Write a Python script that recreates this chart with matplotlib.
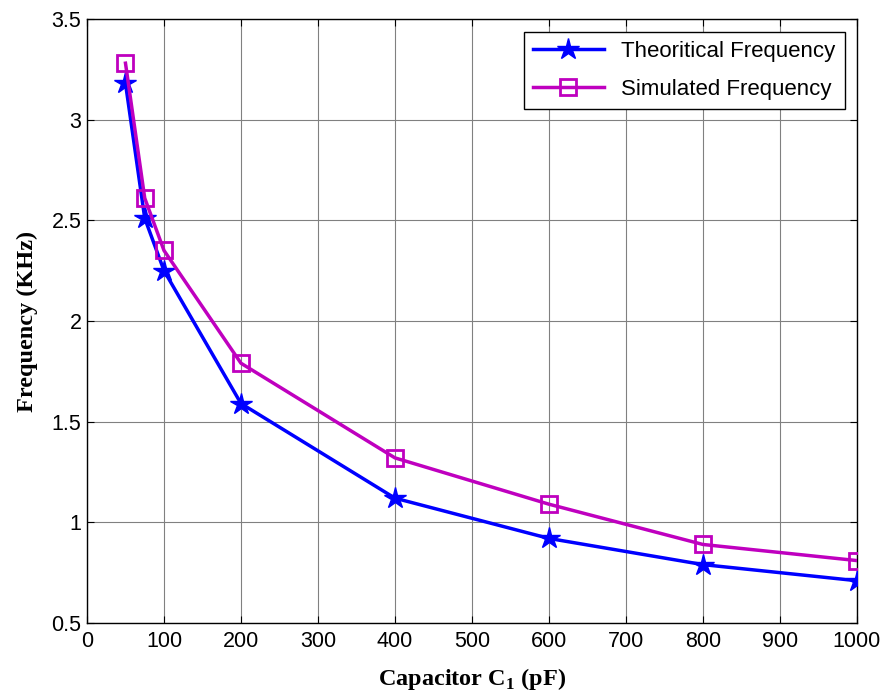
import numpy as np
import matplotlib
matplotlib.use("Agg")
import matplotlib.pyplot as plt

# Capacitor values (pF) and measured / computed frequencies (KHz)
cap = [50, 75, 100, 200, 400, 600, 800, 1000]
f_theory = [3.18, 2.51, 2.25, 1.59, 1.12, 0.92, 0.79, 0.71]
f_sim = [3.28, 2.61, 2.35, 1.79, 1.32, 1.09, 0.89, 0.81]

xticks = [0, 100, 200, 300, 400, 500, 600, 700, 800, 900, 1000]
yticks = [0.5, 1, 1.5, 2, 2.5, 3, 3.5]
ytick_labels = ['0.5', '1', '1.5', '2', '2.5', '3', '3.5']

plt.rcParams['font.family'] = ['Liberation Sans', 'DejaVu Sans']
plt.rcParams['mathtext.fontset'] = 'custom'
plt.rcParams['mathtext.rm'] = 'Liberation Serif:bold'
plt.rcParams['mathtext.bf'] = 'Liberation Serif:bold'

fig = plt.figure(figsize=(8.84, 7.0), dpi=100)
ax = fig.add_axes([0.0984, 0.11, 0.871, 0.863])

ax.plot(cap, f_theory, color='#0000FF', lw=2.5, marker='*', ms=16,
        mfc='#0000FF', mec='#0000FF', label='Theoritical Frequency', zorder=3)
ax.plot(cap, f_sim, color='#BF00BF', lw=2.5, marker='s', ms=11.5,
        mfc='none', mec='#BF00BF', mew=2, label='Simulated Frequency', zorder=3)

ax.set_xlim(0, 1000)
ax.set_ylim(0.5, 3.5)
ax.set_xticks(xticks)
ax.set_yticks(yticks)
ax.set_yticklabels(ytick_labels)
ax.tick_params(direction='in', top=True, right=True, labelsize=15.5, length=5)
ax.tick_params(axis='x', pad=6)
ax.tick_params(axis='y', pad=4)
ax.grid(True, color='#808080', lw=0.8)
for s in ax.spines.values():
    s.set_linewidth(1.0)

ax.set_xlabel(r'Capacitor C$_{\mathbf{1}}$ (pF)', family='Liberation Serif',
              fontweight='bold', fontsize=17.5, labelpad=10)
ax.set_ylabel('Frequency (KHz)', family='Liberation Serif',
              fontweight='bold', fontsize=17.5, labelpad=10)

leg = ax.legend(loc='upper right', bbox_to_anchor=(0.984, 0.978),
                borderaxespad=0, fontsize=16, fancybox=False, framealpha=1,
                edgecolor='black', handlelength=3.2, labelspacing=0.75)
leg.get_frame().set_linewidth(1.0)

fig.savefig('out.png', dpi=100)
